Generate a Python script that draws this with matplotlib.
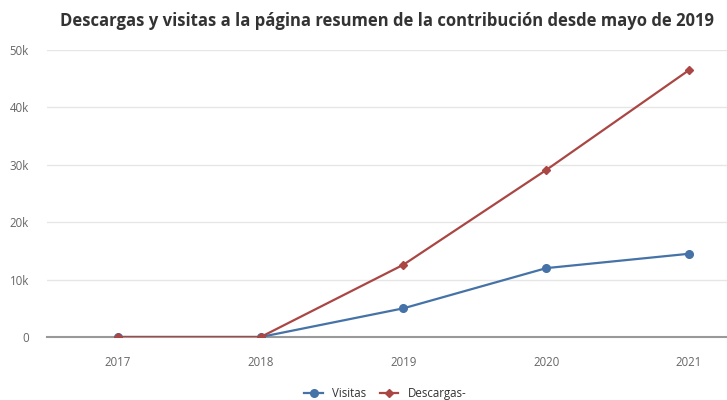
import matplotlib
matplotlib.use("Agg")
import matplotlib.pyplot as plt
from matplotlib.ticker import FuncFormatter
from matplotlib.lines import Line2D

years = ["2017", "2018", "2019", "2020", "2021"]
visitas = [0, 0, 5000, 12000, 14500]
descargas = [0, 0, 12600, 29100, 46500]

plt.rcParams['font.family'] = ['Open Sans', 'DejaVu Sans']

fig = plt.figure(figsize=(7.27, 4.0), dpi=100)
ax = fig.add_axes([47 / 727, 63 / 400, 1 - 47 / 727, 287 / 400])

x = list(range(len(years)))
ax.plot(x, visitas, color='#4572A7', lw=1.6, marker='o', ms=5.5, label='Visitas', zorder=3)
ax.plot(x, descargas, color='#AA4643', lw=1.6, marker='D', ms=4, label='Descargas-', zorder=4)

ax.set_xlim(-0.497, 4.266)
ax.set_ylim(0, 50000)
ax.set_yticks(range(0, 50001, 10000))
ax.yaxis.set_major_formatter(FuncFormatter(lambda v, p: '0' if v == 0 else f'{int(v/1000)}k'))
ax.set_xticks(x)
ax.set_xticklabels(years)

ax.grid(axis='y', color='#e6e6e6', lw=1)
ax.set_axisbelow(True)
for s in ['top', 'right', 'left']:
    ax.spines[s].set_visible(False)
ax.spines['bottom'].set_color('#999999')
ax.spines['bottom'].set_linewidth(1.5)
ax.tick_params(axis='y', length=0, pad=13, labelcolor='#666666', labelsize=8.3)
ax.tick_params(axis='x', length=0, pad=14, labelcolor='#666666', labelsize=8.3)

fig.text(0.533, 0.947, 'Descargas y visitas a la página resumen de la contribución desde mayo de 2019',
         ha='center', va='center', fontsize=12, fontweight='bold', color='#333333')

handles = [Line2D([], [], color='#4572A7', lw=1.6, marker='o', ms=5.5),
           Line2D([], [], color='#AA4643', lw=1.6, marker='D', ms=4)]
fig.legend(handles, ['Visitas', 'Descargas-'], loc='center', bbox_to_anchor=(0.53, 0.017),
           ncol=2, frameon=False, fontsize=8.3, handlelength=1.6, columnspacing=1.2,
           labelcolor='#333333')

fig.savefig('out.png', dpi=100)
